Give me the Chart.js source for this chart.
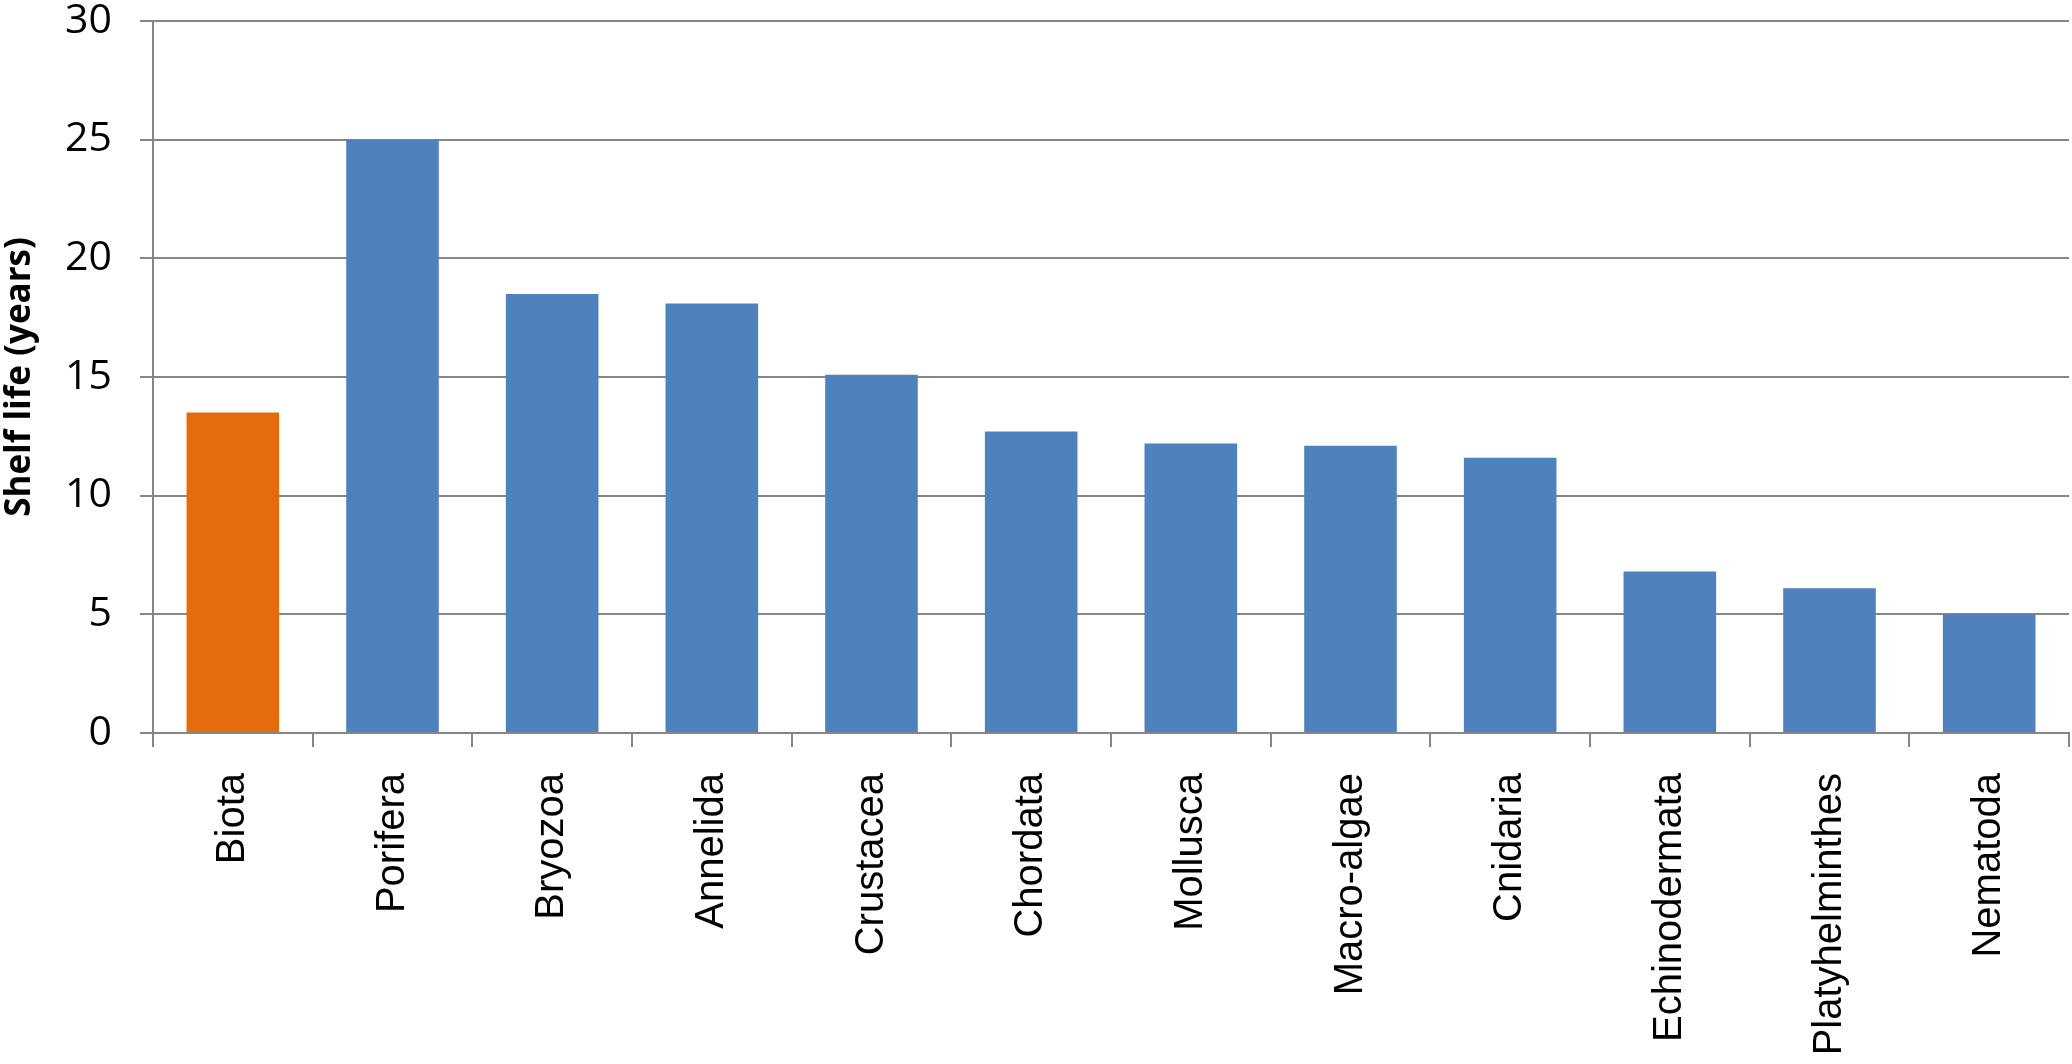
<!DOCTYPE html>
<html>
<head>
<meta charset="utf-8">
<script src="https://cdn.jsdelivr.net/npm/chart.js@4/dist/chart.umd.min.js"></script>
<style>
  html, body { margin: 0; padding: 0; background: #ffffff; }
  #wrap { width: 2072px; height: 1064px; position: relative; }
</style>
</head>
<body>
<div id="wrap"><canvas id="c" width="2072" height="1064"></canvas></div>
<script>
const categories = ["Biota", "Porifera", "Bryozoa", "Annelida", "Crustacea", "Chordata", "Mollusca", "Macro-algae", "Cnidaria", "Echinodermata", "Platyhelminthes", "Nematoda"];
const shelfLife = [13.5, 25.0, 18.5, 18.1, 15.1, 12.7, 12.2, 12.1, 11.6, 6.8, 6.1, 5.0];
const barColors = ["#E46C0A", "#4F81BD", "#4F81BD", "#4F81BD", "#4F81BD", "#4F81BD", "#4F81BD", "#4F81BD", "#4F81BD", "#4F81BD", "#4F81BD", "#4F81BD"];
const yTicks = [0, 5, 10, 15, 20, 25, 30];
const yTitle = "Shelf life (years)";

new Chart(document.getElementById('c'), {
  type: 'bar',
  data: {
    labels: categories,
    datasets: [{
      data: shelfLife,
      backgroundColor: barColors,
      borderWidth: 0,
      categoryPercentage: 1.0,
      barPercentage: 0.58
    }]
  },
  options: {
    responsive: false,
    animation: false,
    devicePixelRatio: 1,
    layout: { padding: { top: 0, right: 3, left: 0, bottom: 0 } },
    plugins: { legend: { display: false }, tooltip: { enabled: false } },
    scales: {
      x: {
        offset: true,
        grid: { display: true, drawOnChartArea: false, drawTicks: true, tickLength: 14, color: '#868686', lineWidth: 2, offset: true },
        border: { display: true, color: '#868686', width: 2 },
        ticks: {
          autoSkip: false, maxRotation: 90, minRotation: 90, padding: 26,
          color: '#000000',
          font: { family: '"Liberation Sans", Arial, sans-serif', size: 40 }
        },
        afterFit: (s) => { s.height = 331; }
      },
      y: {
        min: 0, max: 30,
        afterBuildTicks: (s) => { s.ticks = yTicks.map(v => ({ value: v })); },
        grid: { color: '#868686', lineWidth: 2, tickLength: 13, drawTicks: true },
        border: { display: true, color: '#868686', width: 2 },
        ticks: {
          padding: 28, color: '#000000',
          font: { family: '"Open Sans", "Noto Sans", sans-serif', size: 41, lineHeight: 1.0 }
        },
        title: {
          display: true, text: yTitle, color: '#000000',
          font: { family: '"Open Sans", sans-serif', size: 35, weight: 'bold', lineHeight: 1.0 },
          padding: { top: 3, bottom: 0 }
        },
        afterFit: (s) => { s.width = 153; s.paddingTop = 21; s.paddingBottom = 0; }
      }
    }
  }
});
</script>
</body>
</html>
